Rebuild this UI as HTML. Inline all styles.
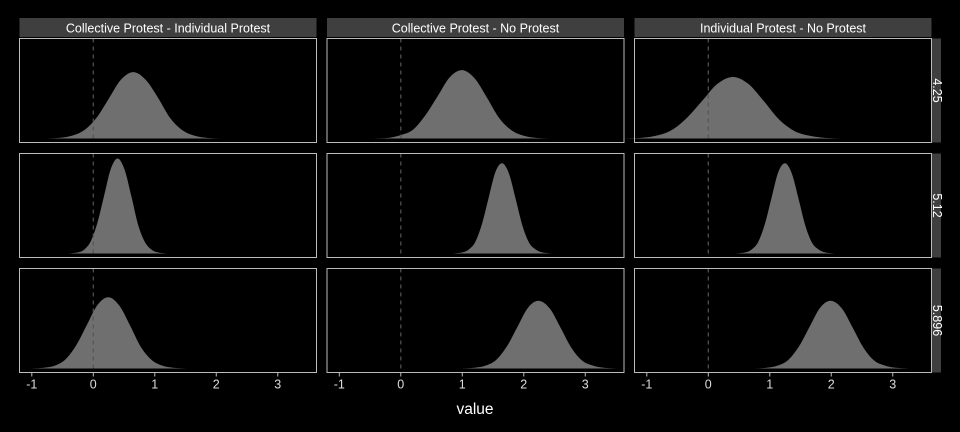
<!DOCTYPE html>
<html><head><meta charset="utf-8"><style>
body{margin:0;background:#000;}
svg{display:block;font-family:"Liberation Sans",sans-serif;}
</style></head><body>
<svg id="chart" width="960" height="432"></svg>
<script>
const colLabels=["Collective Protest - Individual Protest","Collective Protest - No Protest","Individual Protest - No Protest"];
const rowLabels=["4.25","5.12","5.896"];
const rowPeak=[0.72,1,0.75];
const tickVals=[-1,0,1,2,3];
const densX=[
[[-0.8,-0.55,-0.35,-0.15,0.05,0.25,0.45,0.65,0.85,1.05,1.25,1.45,1.65,1.85,2.1],
 [-0.45,-0.2,0,0.2,0.4,0.6,0.8,1.0,1.2,1.4,1.6,1.8,2.0,2.2,2.45],
 [-1.4,-1.1,-0.85,-0.6,-0.35,-0.1,0.15,0.4,0.65,0.9,1.15,1.4,1.65,1.9,2.2]],
[[-0.4,-0.26,-0.15,-0.04,0.07,0.18,0.29,0.4,0.51,0.62,0.73,0.84,0.95,1.06,1.2],
 [0.85,0.99,1.1,1.21,1.32,1.43,1.54,1.65,1.76,1.87,1.98,2.09,2.2,2.31,2.45],
 [0.45,0.59,0.7,0.81,0.92,1.03,1.14,1.25,1.36,1.47,1.58,1.69,1.8,1.91,2.05]],
[[-1.0,-0.8,-0.625,-0.45,-0.275,-0.1,0.075,0.25,0.425,0.6,0.775,0.95,1.125,1.3,1.5],
 [1.0,1.2,1.375,1.55,1.725,1.9,2.075,2.25,2.425,2.6,2.775,2.95,3.125,3.3,3.5],
 [0.75,0.95,1.125,1.3,1.475,1.65,1.825,2.0,2.175,2.35,2.525,2.7,2.875,3.05,3.25]]];
const densY=[
[[0,0.01,0.04,0.12,0.3,0.58,0.86,0.97,0.86,0.6,0.3,0.12,0.04,0.01,0],
 [0,0.01,0.05,0.13,0.34,0.62,0.9,1,0.88,0.6,0.3,0.12,0.04,0.01,0],
 [0,0.01,0.04,0.12,0.3,0.55,0.8,0.9,0.8,0.55,0.28,0.11,0.04,0.01,0]],
[[0,0.01,0.04,0.13,0.33,0.62,0.9,1,0.88,0.6,0.3,0.12,0.04,0.01,0],
 [0,0.01,0.04,0.12,0.31,0.59,0.86,0.95,0.84,0.57,0.29,0.11,0.04,0.01,0],
 [0,0.01,0.04,0.12,0.31,0.59,0.86,0.95,0.84,0.57,0.29,0.11,0.04,0.01,0]],
[[0,0.01,0.04,0.13,0.33,0.62,0.9,1,0.88,0.6,0.3,0.12,0.04,0.01,0],
 [0,0.01,0.04,0.12,0.31,0.59,0.86,0.95,0.84,0.57,0.29,0.11,0.04,0.01,0],
 [0,0.01,0.04,0.12,0.31,0.59,0.86,0.95,0.84,0.57,0.29,0.11,0.04,0.01,0]]];

const NS="http://www.w3.org/2000/svg";
const svg=document.getElementById("chart");
function mk(t,a,p){const e=document.createElementNS(NS,t);for(const k in a)e.setAttribute(k,a[k]);(p||svg).appendChild(e);return e;}
const colX=[19.5,327,634.5], pw=297;
const rowY=[38.5,153.5,268.5], ph=104;
const xmin=-1.2,xmax=3.63;
function sx(c,v){return colX[c]+(v-xmin)/(xmax-xmin)*pw;}
function sy(r,v){return rowY[r]+ph-4-v*(ph-9);}
for(let c=0;c<3;c++){
  const st=mk("rect",{x:colX[c],y:18,width:pw,height:19,fill:"#3f3f3f"});
  
  
  const t=mk("text",{x:colX[c]+pw/2,y:32.5,fill:"#fff","font-size":12.5,"text-anchor":"middle"});
  t.textContent=colLabels[c];
  
  
}
for(let r=0;r<3;r++){
  const st=mk("rect",{x:932,y:rowY[r],width:9,height:ph,fill:"#3f3f3f"});
  
  
  const cy=rowY[r]+ph/2;
  const t=mk("text",{x:933,y:cy,fill:"#fff","font-size":12.5,"text-anchor":"middle",transform:`rotate(90 933 ${cy})`});
  t.textContent=rowLabels[r];
  
  
  for(let c=0;c<3;c++){
    const xs=densX[r][c], ys=densY[r][c];
    const pts=xs.map((x,i)=>[sx(c,x),sy(r,ys[i]*rowPeak[r])]);
    let d=`M${pts[0][0]},${sy(r,0)} L${pts[0][0]},${pts[0][1]}`;
    for(let i=0;i<pts.length-1;i++){
      const p0=pts[Math.max(i-1,0)],p1=pts[i],p2=pts[i+1],p3=pts[Math.min(i+2,pts.length-1)];
      d+=` C${p1[0]+(p2[0]-p0[0])/6},${p1[1]+(p2[1]-p0[1])/6} ${p2[0]-(p3[0]-p1[0])/6},${p2[1]-(p3[1]-p1[1])/6} ${p2[0]},${p2[1]}`;
    }
    d+=` L${pts[pts.length-1][0]},${sy(r,0)} Z`;
    const a=mk("path",{d,fill:"#6f6f6f"});
    
    
    const z=mk("line",{x1:sx(c,0),x2:sx(c,0),y1:rowY[r],y2:rowY[r]+ph,stroke:"#555","stroke-dasharray":"4,4","stroke-width":1.2});
    
    
    const b=mk("rect",{x:colX[c],y:rowY[r],width:pw,height:ph,fill:"none",stroke:"#bbb","stroke-width":1});
    
    
  }
}
for(let c=0;c<3;c++){
  tickVals.forEach(v=>{
    const x=sx(c,v);
    const tk=mk("line",{x1:x,x2:x,y1:372.5,y2:376.5,stroke:"#bbb"});
    
    
    const t=mk("text",{x:x,y:388.5,fill:"#ddd","font-size":12.5,"text-anchor":"middle"});
    t.textContent=String(v);
    
    
  });
}
const xt=mk("text",{x:475,y:414,fill:"#fff","font-size":15.5,"text-anchor":"middle"});
xt.textContent="value";


</script>
</body></html>
